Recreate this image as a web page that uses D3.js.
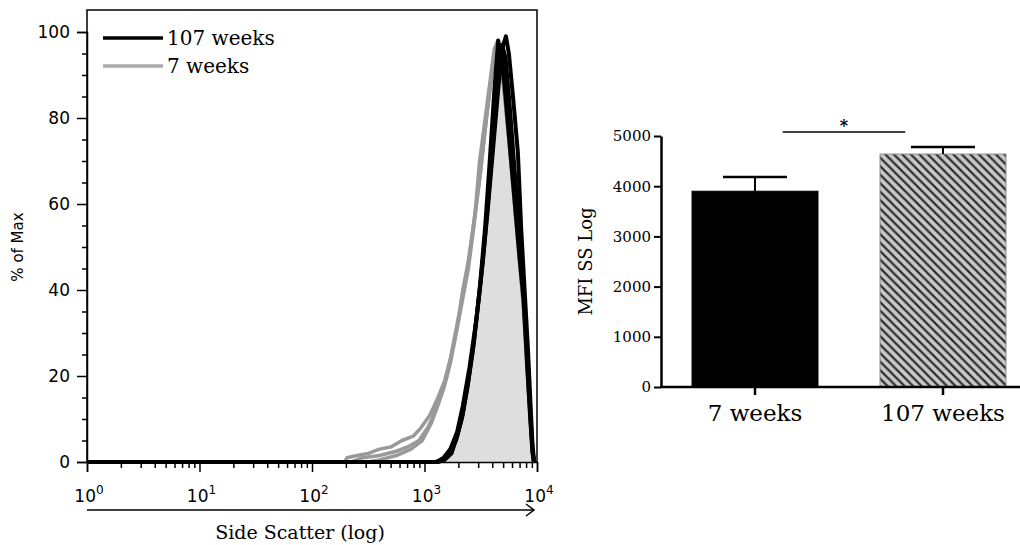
<!DOCTYPE html>
<html>
<head>
<meta charset="utf-8">
<script src="https://cdn.jsdelivr.net/npm/d3@7/dist/d3.min.js"></script>
<style>
  html, body { margin: 0; padding: 0; background: #fff; }
  svg { display: block; }
</style>
</head>
<body>
<svg id="chart" width="1020" height="545"></svg>
<script>
// ---------- Histogram data: [log10(side scatter), % of max] ----------
const histYTicks = [0, 20, 40, 60, 80, 100];
const histDecades = [0, 1, 2, 3, 4];

// 107-week animals (black traces)
const ssc107a = [[0,0],[3.10,0],[3.16,0.5],[3.22,2],[3.28,5],[3.33,10],[3.38,17],[3.43,26],[3.49,40],[3.54,55],[3.58,70],[3.62,86],[3.655,98],[3.69,94],[3.73,82],[3.77,70],[3.81,58],[3.85,46],[3.88,38],[3.91,24],[3.94,10],[3.96,2],[3.975,0]];
const ssc107b = [[0,0],[3.12,0],[3.18,0.5],[3.24,2],[3.29,6],[3.34,11],[3.39,19],[3.44,28],[3.50,42],[3.56,58],[3.61,73],[3.66,88],[3.70,97],[3.724,99],[3.75,95],[3.79,84],[3.83,72],[3.86,54],[3.89,40],[3.92,26],[3.945,12],[3.96,4],[3.975,0]];
const ssc107c = [[0,0],[3.11,0],[3.17,1],[3.23,3],[3.29,7],[3.34,13],[3.40,22],[3.46,33],[3.52,47],[3.57,62],[3.62,78],[3.66,91],[3.69,97],[3.72,94],[3.76,82],[3.80,68],[3.84,55],[3.87,44],[3.90,30],[3.93,16],[3.955,5],[3.97,0]];

// 7-week animals (grey traces)
const ssc7a = [[0,0],[2.29,0],[2.31,1],[2.40,1.5],[2.50,2],[2.60,3],[2.70,3.5],[2.80,5],[2.90,6],[2.97,8],[3.05,11],[3.12,15],[3.18,19],[3.24,25],[3.30,33],[3.34,40],[3.37,44],[3.40,48],[3.45,58],[3.49,70],[3.54,80],[3.58,88],[3.62,96],[3.65,98],[3.68,94],[3.72,84],[3.76,72],[3.80,60],[3.84,48],[3.88,36],[3.91,22],[3.94,10],[3.96,2],[3.975,0]];
const ssc7b = [[0,0],[2.35,0],[2.45,1],[2.60,1.5],[2.75,2.5],[2.85,3.5],[2.95,5],[3.03,8],[3.10,12],[3.17,17],[3.23,23],[3.29,31],[3.34,38],[3.39,45],[3.44,55],[3.50,68],[3.55,80],[3.60,90],[3.64,96],[3.67,95],[3.71,86],[3.75,75],[3.79,64],[3.83,52],[3.87,40],[3.90,28],[3.93,14],[3.96,3],[3.975,0]];
const ssc7c = [[0,0],[2.50,0],[2.60,0.5],[2.75,1.5],[2.88,3],[2.98,5],[3.06,9],[3.13,14],[3.20,20],[3.26,28],[3.32,36],[3.38,45],[3.44,56],[3.50,68],[3.56,82],[3.61,93],[3.645,97],[3.68,93],[3.72,83],[3.76,72],[3.80,60],[3.84,48],[3.88,36],[3.91,22],[3.94,10],[3.96,2],[3.975,0]];

// Shaded reference histogram
const sscFilled = [[3.12,0],[3.22,3],[3.30,9],[3.36,17],[3.42,28],[3.48,42],[3.54,56],[3.59,72],[3.63,84],[3.67,89],[3.70,86],[3.74,76],[3.78,64],[3.82,52],[3.86,42],[3.90,30],[3.93,16],[3.955,5],[3.97,0]];

const legendLabels = ["107 weeks", "7 weeks"];

// ---------- Bar chart data ----------
const groups = ["7 weeks", "107 weeks"];
const mfiMean = [3900, 4640];
const mfiSem = [285, 140];
const mfiTicks = [0, 1000, 2000, 3000, 4000, 5000];
const sigMark = "*";

const svg = d3.select("#chart");
const sans = "'DejaVu Sans', sans-serif";
const serif = "'DejaVu Serif', serif";

// =============== Histogram ===============
const hx = d3.scaleLog().domain([1, 10000]).range([87, 537]);
const hy = d3.scaleLinear().domain([0, 100]).range([462, 32]);
const toX = d => hx(Math.pow(10, d[0]));

const hist = svg.append("g");

// frame
hist.append("rect")
  .attr("x", hx(1)).attr("y", 10)
  .attr("width", hx(10000) - hx(1)).attr("height", hy(0) - 10)
  .attr("fill", "none").attr("stroke", "#000").attr("stroke-width", 1.5);

// filled histogram
hist.append("path")
  .datum(sscFilled)
  .attr("fill", "#dedede")
  .attr("d", d3.area().x(toX).y0(hy(0)).y1(d => hy(d[1])));

const line = d3.line().x(toX).y(d => hy(d[1]));

hist.selectAll("path.young")
  .data([ssc7a, ssc7b, ssc7c])
  .join("path")
  .attr("class", "young")
  .attr("fill", "none")
  .attr("stroke", "#999")
  .attr("stroke-width", 3.5)
  .attr("stroke-linejoin", "round")
  .attr("d", line);

hist.selectAll("path.old")
  .data([ssc107a, ssc107b, ssc107c])
  .join("path")
  .attr("class", "old")
  .attr("fill", "none")
  .attr("stroke", "#000")
  .attr("stroke-width", 4)
  .attr("stroke-linejoin", "round")
  .attr("d", line);

// y axis with minor ticks every 5
const yAxisG = hist.append("g")
  .attr("transform", `translate(${hx(1)},0)`)
  .call(d3.axisLeft(hy).tickValues(d3.range(0, 101, 5)).tickSize(10).tickPadding(7)
    .tickFormat(d => histYTicks.includes(d) ? d : ""));
yAxisG.select(".domain").attr("stroke-width", 1.5);
yAxisG.selectAll(".tick line")
  .attr("stroke-width", 1.5)
  .attr("x2", d => histYTicks.includes(d) ? -10 : -5);
yAxisG.selectAll(".tick text")
  .attr("font-family", sans).attr("font-size", 17).attr("fill", "#000");

// x axis (log, decade labels with superscripts)
const minor = [];
histDecades.slice(0, -1).forEach(e => { for (let m = 1; m < 10; m++) minor.push(m * Math.pow(10, e)); });
minor.push(10000);
const xAxisG = hist.append("g")
  .attr("transform", `translate(0,${hy(0)})`)
  .call(d3.axisBottom(hx).tickValues(minor).tickSize(10).tickFormat(""));
xAxisG.select(".domain").attr("stroke-width", 1.5);
const isDecade = d => Math.abs(Math.log10(d) - Math.round(Math.log10(d))) < 1e-9;
xAxisG.selectAll(".tick line")
  .attr("stroke-width", 1.5)
  .attr("y2", d => isDecade(d) ? 10 : 6);

const decLabels = hist.selectAll("text.dec")
  .data(histDecades)
  .join("text")
  .attr("class", "dec")
  .attr("x", e => hx(Math.pow(10, e)) + 2)
  .attr("y", 502)
  .attr("text-anchor", "middle")
  .attr("font-family", sans).attr("font-size", 17);
decLabels.append("tspan").text("10");
decLabels.append("tspan").attr("dy", -8).attr("font-size", 12).text(e => e);

// axis arrow and title
hist.append("line")
  .attr("x1", hx(1)).attr("x2", hx(10000) - 3)
  .attr("y1", 510).attr("y2", 510)
  .attr("stroke", "#000").attr("stroke-width", 1.5);
hist.append("path")
  .attr("d", `M${hx(10000) - 11},504 L${hx(10000) - 3},510 L${hx(10000) - 11},516`)
  .attr("fill", "none").attr("stroke", "#000").attr("stroke-width", 1.5);
hist.append("text")
  .attr("x", (hx(1) + hx(10000)) / 2 - 12).attr("y", 539)
  .attr("text-anchor", "middle")
  .attr("font-family", serif).attr("font-size", 19)
  .text("Side Scatter (log)");
hist.append("text")
  .attr("transform", `translate(23,${hy(50)}) rotate(-90)`)
  .attr("text-anchor", "middle")
  .attr("font-family", sans).attr("font-size", 15)
  .text("% of Max");

// legend
const legend = hist.selectAll("g.leg")
  .data(legendLabels)
  .join("g")
  .attr("class", "leg")
  .attr("transform", (d, i) => `translate(103,${38 + i * 28})`);
legend.append("line")
  .attr("x1", 0).attr("x2", 60)
  .attr("stroke", (d, i) => i === 0 ? "#000" : "#aaa")
  .attr("stroke-width", 3.5);
legend.append("text")
  .attr("x", 64).attr("y", 7)
  .attr("font-family", serif).attr("font-size", 20)
  .text(d => d);

// =============== Bar chart ===============
const by = d3.scaleLinear().domain([0, 5000]).range([387, 136]);
const bx = d3.scaleBand().domain(groups).range([661, 1037]).paddingInner(0.33).paddingOuter(0.165);

const defs = svg.append("defs");
const pat = defs.append("pattern")
  .attr("id", "hatch")
  .attr("patternUnits", "userSpaceOnUse")
  .attr("width", 8.5).attr("height", 8.5);
pat.append("rect").attr("width", 8.5).attr("height", 8.5).attr("fill", "#c9c9c9");
pat.append("path")
  .attr("d", "M0,0 L8.5,8.5 M-2,6.5 L2,10.5 M6.5,-2 L10.5,2")
  .attr("stroke", "#2e2e2e").attr("stroke-width", 2.2);

const bars = svg.append("g");
bars.selectAll("rect.bar")
  .data(groups)
  .join("rect")
  .attr("class", "bar")
  .attr("x", d => bx(d))
  .attr("y", (d, i) => by(mfiMean[i]))
  .attr("width", bx.bandwidth())
  .attr("height", (d, i) => by(0) - by(mfiMean[i]))
  .attr("fill", (d, i) => i === 0 ? "#000" : "url(#hatch)")
  .attr("stroke", (d, i) => i === 0 ? "#000" : "#8a8a8a")
  .attr("stroke-width", 1);

// error bars (upper only)
const err = bars.selectAll("g.err")
  .data(groups)
  .join("g")
  .attr("class", "err");
err.append("line")
  .attr("x1", d => bx(d) + bx.bandwidth() / 2)
  .attr("x2", d => bx(d) + bx.bandwidth() / 2)
  .attr("y1", (d, i) => by(mfiMean[i]))
  .attr("y2", (d, i) => by(mfiMean[i] + mfiSem[i]))
  .attr("stroke", "#000").attr("stroke-width", 2);
err.append("line")
  .attr("x1", d => bx(d) + bx.bandwidth() / 2 - 32)
  .attr("x2", d => bx(d) + bx.bandwidth() / 2 + 32)
  .attr("y1", (d, i) => by(mfiMean[i] + mfiSem[i]))
  .attr("y2", (d, i) => by(mfiMean[i] + mfiSem[i]))
  .attr("stroke", "#000").attr("stroke-width", 2.5);

// axes
const byAxis = bars.append("g")
  .attr("transform", "translate(661,0)")
  .call(d3.axisLeft(by).tickValues(mfiTicks).tickSize(7).tickPadding(3).tickSizeOuter(0)
    .tickFormat(d3.format("d")));
byAxis.select(".domain").attr("stroke-width", 2.5);
byAxis.selectAll(".tick line").attr("stroke-width", 2);
byAxis.selectAll(".tick text").attr("font-family", serif).attr("font-size", 15).attr("fill", "#000");

const bxAxis = bars.append("g")
  .attr("transform", `translate(0,${by(0)})`)
  .call(d3.axisBottom(bx).tickSize(8).tickPadding(10).tickSizeOuter(0));
bxAxis.select(".domain").remove();
bxAxis.selectAll(".tick line").attr("stroke-width", 2.5);
bxAxis.selectAll(".tick text").attr("font-family", serif).attr("font-size", 23).attr("fill", "#000");
bars.append("line")
  .attr("x1", 660).attr("x2", 1020)
  .attr("y1", by(0)).attr("y2", by(0))
  .attr("stroke", "#000").attr("stroke-width", 2.5);

bars.append("text")
  .attr("transform", `translate(592,${by(2500)}) rotate(-90)`)
  .attr("text-anchor", "middle")
  .attr("font-family", serif).attr("font-size", 18)
  .text("MFI SS Log");

// significance bracket
const sx1 = bx(groups[0]) + bx.bandwidth() * 0.72;
const sx2 = bx(groups[1]) + bx.bandwidth() * 0.2;
bars.append("line")
  .attr("x1", sx1).attr("x2", sx2)
  .attr("y1", 132).attr("y2", 132)
  .attr("stroke", "#000").attr("stroke-width", 1.5);
bars.append("text")
  .attr("x", (sx1 + sx2) / 2).attr("y", 131)
  .attr("text-anchor", "middle")
  .attr("font-family", serif).attr("font-size", 16).attr("font-weight", "bold")
  .text(sigMark);
</script>
</body>
</html>
